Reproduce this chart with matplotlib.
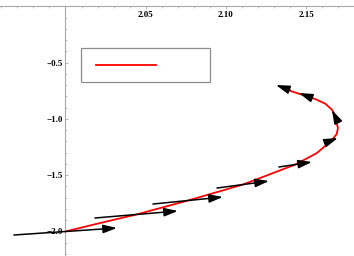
import matplotlib
matplotlib.use("Agg")
import matplotlib.pyplot as plt
from matplotlib.patches import FancyArrowPatch
from matplotlib.ticker import MultipleLocator, FixedLocator
from matplotlib.font_manager import FontProperties

# trayectoria
curva_x = [2.0000, 2.0215, 2.0442, 2.0763, 2.1106, 2.1433, 2.1567, 2.1657,
           2.1690, 2.1698, 2.1676, 2.1662, 2.1620, 2.1565, 2.1495, 2.1461,
           2.1399, 2.1368]
curva_y = [-2.000, -1.925, -1.849, -1.725, -1.583, -1.405, -1.303, -1.192,
           -1.135, -1.081, -0.965, -0.920, -0.866, -0.829, -0.792, -0.779,
           -0.750, -0.728]

# centros de las flechas y sus componentes
flecha_x = [2.0000, 2.0442, 2.0763, 2.1106, 2.1433, 2.1657, 2.1676, 2.1495, 2.1355]
flecha_y = [-2.000, -1.849, -1.725, -1.583, -1.405, -1.192, -0.965, -0.792, -0.721]
flecha_u = [0.0642, 0.0517, 0.0436, 0.0324, 0.0206, 0.0081, -0.0031, -0.0081, -0.0087]
flecha_v = [0.0622, 0.0622, 0.0622, 0.0622, 0.0444, 0.0444, 0.0888, 0.0444, 0.0444]

xticks_mayores = [2.05, 2.10, 2.15]
xticks_etiquetas = ['2.05', '2.10', '2.15']
yticks_mayores = [-0.5, -1.0, -1.5, -2.0]
yticks_etiquetas = ['\u22120.5', '\u22121.0', '\u22121.5', '\u22122.0']

gris = '#a8a8a8'

fig = plt.figure(figsize=(3.54, 2.56), dpi=100)
ax = fig.add_axes([0, 0, 1, 1])
ax.set_xlim(1.9592, 2.1798)
ax.set_ylim(-2.2176, 0.056)

linea, = ax.plot(curva_x, curva_y, color='red', lw=1.3, zorder=2,
                 solid_joinstyle='round')

for x, y, u, v in zip(flecha_x, flecha_y, flecha_u, flecha_v):
    a = FancyArrowPatch((x - u / 2, y - v / 2), (x + u / 2, y + v / 2),
                        arrowstyle='-|>,head_length=0.55,head_width=0.17',
                        mutation_scale=15, color='black', lw=1.1,
                        shrinkA=0, shrinkB=0, zorder=3)
    ax.add_patch(a)

# ejes al estilo Mathematica
for lado in ['top', 'right']:
    ax.spines[lado].set_visible(False)
ax.spines['bottom'].set_position(('data', 0))
ax.spines['left'].set_position(('data', 2.0))
ax.spines['left'].set_bounds(-2.2176, 0)
for lado in ['bottom', 'left']:
    ax.spines[lado].set_color(gris)
    ax.spines[lado].set_linewidth(0.8)

ax.xaxis.set_major_locator(FixedLocator(xticks_mayores))
ax.set_xticklabels(xticks_etiquetas)
ax.xaxis.set_minor_locator(MultipleLocator(0.01))
ax.yaxis.set_major_locator(FixedLocator(yticks_mayores))
ax.set_yticklabels(yticks_etiquetas)
ax.yaxis.set_minor_locator(MultipleLocator(0.1))

fuente = FontProperties(family='Liberation Serif', weight='bold', size=6.5)
for t in ax.get_xticklabels() + ax.get_yticklabels():
    t.set_fontproperties(fuente)

ax.tick_params(axis='x', which='major', direction='out', length=2.5, width=0.6,
               color=gris, pad=1.0)
ax.tick_params(axis='x', which='minor', direction='out', length=1.5, width=0.5,
               color=gris)
ax.tick_params(axis='y', which='major', direction='in', length=2.5, width=0.6,
               color=gris, pad=1.5)
ax.tick_params(axis='y', which='minor', direction='in', length=1.5, width=0.5,
               color=gris)

leyenda = ax.legend([linea], [' '], loc='upper left',
                    bbox_to_anchor=(0.2288, 0.6797, 0.3644, 0.1328),
                    mode='expand', fancybox=False, frameon=True,
                    prop={'size': 2.5}, borderpad=4.3, handlelength=17.3,
                    handletextpad=0.5, borderaxespad=0)
leyenda.get_frame().set_edgecolor('#707070')
leyenda.get_frame().set_linewidth(0.9)

fig.savefig('out.png', dpi=100)
